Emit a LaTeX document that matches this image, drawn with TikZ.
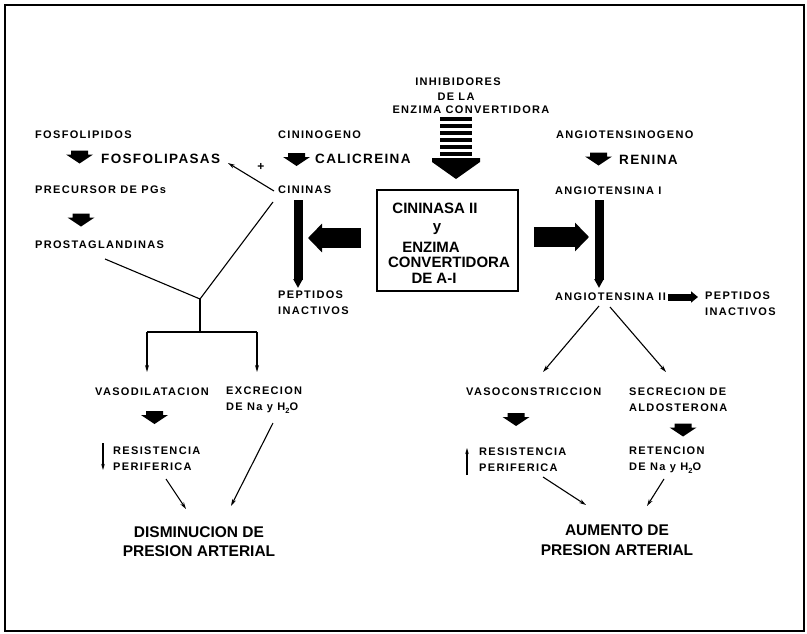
\documentclass[tikz,border=0pt]{standalone}
\usepackage{fontspec}
\setmainfont{Liberation Sans}
\newfontfamily\labf{Liberation Sans}[LetterSpace=12]
\newfontfamily\midf{Liberation Sans}[LetterSpace=10]
\newfontfamily\bigf{Liberation Sans}
\usetikzlibrary{arrows.meta}
\newcommand{\hdo}{H\lower2.5pt\hbox{\fontsize{7.5}{7.5}\selectfont 2}O}
\tikzset{
  lab/.style={font=\labf\bfseries\fontsize{11}{16}\selectfont, inner sep=0pt, anchor=west, align=left},
  labc/.style={font=\labf\bfseries\fontsize{11}{16}\selectfont, inner sep=0pt, anchor=center},
  mid/.style={font=\midf\bfseries\fontsize{13.5}{16}\selectfont, inner sep=0pt, anchor=west},
  boxt/.style={font=\bigf\bfseries\fontsize{15}{16}\selectfont, inner sep=0pt, anchor=center},
  result/.style={font=\bigf\bfseries\fontsize{15.5}{19.5}\selectfont, inner sep=0pt, anchor=center, align=center},
  thinline/.style={line width=1.1pt},
  thinarrow/.style={line width=1.1pt, -{Stealth[length=7pt,width=4pt]}},
  bigarrow/.style={line width=20pt, -{Triangle[width=28pt,length=14pt]}},
  barrow/.style={line width=9pt, -{Triangle[width=9pt,length=9pt]}},
  smallfat/.style={line width=7pt, -{Triangle[width=11pt,length=7pt]}},
  fatdown/.pic={\fill (-8.5,-6.5) -- (8.5,-6.5) -- (8.5,-2.5) -- (13.5,-2.5) -- (0,6.5) -- (-13.5,-2.5) -- (-8.5,-2.5) -- cycle;}
}
\begin{document}
\begin{tikzpicture}[x=1pt,y=-1pt]
\useasboundingbox (0,0) rectangle (807,634);
\fill[white] (0,0) rectangle (807,634);
\draw[line width=2.2pt] (5,5) rectangle (804,631);

% inhibitors
\node[labc] (inh1) at (458,82) {INHIBIDORES};
\node[labc] (inh2) at (456,97) {DE LA};
\node[labc] (inh3) at (471,110) {ENZIMA CONVERTIDORA};
\foreach \yy in {117,124,131,138,145,152} \fill (440,\yy) rectangle (472,\yy+4);
\fill (432,158) -- (480,158) -- (480,162) -- (456,179) -- (432,162) -- cycle;

% top row
\node[lab] (fosfolipidos) at (35,135) {FOSFOLIPIDOS};
\node[lab] (cininogeno) at (278,135) {CININOGENO};
\node[lab] (angiotensinogeno) at (556,135) {ANGIOTENSINOGENO};

\pic at (79.5,157) {fatdown};
\pic at (296.5,159.5) {fatdown};
\pic at (598.5,159) {fatdown};
\node[mid] (fosfolipasas) at (101,159) {FOSFOLIPASAS};
\node[mid] (calicreina) at (315,159) {CALICREINA};
\node[mid] (renina) at (619,160) {RENINA};

\node[lab] (precursor) at (35,190) {PRECURSOR DE PGs};
\node[lab] (cininas) at (278,190) {CININAS};
\node[lab] (angI) at (555,191) {ANGIOTENSINA I};

\pic at (81,220) {fatdown};
\node[lab] (prostaglandinas) at (35,245) {PROSTAGLANDINAS};

% + arrow
\coordinate (cinW) at (274,191);
\coordinate (fosE) at (228,163);
\draw[thinarrow] (cinW) -- (fosE);
\node[font=\bigf\bfseries\fontsize{12}{12}\selectfont, inner sep=0pt] (plus) at (261,167) {+};

% central box
\node[draw, line width=1.6pt, minimum width=141pt, minimum height=101pt, inner sep=0pt] (box) at (447.5,240.5) {};
\node[boxt] (b1) at (435,208) {CININASA II};
\node[boxt] (b2) at (437,229) {y};
\node[boxt] (b3) at (431,247) {ENZIMA};
\node[boxt] (b4) at (449,262) {CONVERTIDORA};
\node[boxt] (b5) at (434,278) {DE A-I};

% vertical bars
\coordinate (cinT) at (298,200);
\coordinate (cinB) at (298,288);
\coordinate (angT) at (599,200);
\coordinate (angB) at (599,288);
\draw[barrow] (cinT) -- (cinB);
\draw[barrow] (angT) -- (angB);

% big horizontal arrows
\draw[bigarrow] ([xshift=-15pt,yshift=2.5pt]box.west) -- ([xshift=10pt,yshift=2.5pt]cinT |- box.west);
\draw[bigarrow] ([xshift=15pt,yshift=3.5pt]box.east) -- ([xshift=-10pt,yshift=3.5pt]angT |- box.east);

\node[lab] (pepL) at (278,303) {PEPTIDOS\\INACTIVOS};
\node[lab] (angII) at (555,297) {ANGIOTENSINA II};
\node[lab] (pepR) at (705,304) {PEPTIDOS\\INACTIVOS};
\draw[smallfat] ([xshift=2pt]angII.east) -- ([xshift=-7pt]pepR.west |- angII.east);

% left Y
\coordinate (prosE) at (105,259);
\coordinate (cinS) at (273,202);
\coordinate (J) at (200,299);
\coordinate (J2) at (200,332);
\coordinate (Lb) at (147,332);
\coordinate (Rb) at (257,332);
\coordinate (Lt) at (147,372);
\coordinate (Rt) at (257,372);
\draw[thinline] (prosE) -- (J) -- (cinS);
\draw[thinline] (J) -- (J2);
\draw[thinline] (Lb) -- (Rb);
\draw[thinarrow] (Lb) -- (Lt);
\draw[thinarrow] (Rb) -- (Rt);

\node[lab] (vasodil) at (95,392) {VASODILATACION};
\node[lab] (excrecion) at (226,400) {EXCRECION\\DE Na y \hdo};
\pic at (154.5,417.5) {fatdown};
\coordinate (dnT) at (103,443);
\coordinate (dnB) at (103,470);
\draw[line width=1.2pt, -{Stealth[length=6pt,width=3.5pt]}] (dnT) -- (dnB);
\node[lab] (resL) at (113,459) {RESISTENCIA\\PERIFERICA};
\coordinate (a1s) at (166,479);
\coordinate (a1e) at (186,509);
\coordinate (a2s) at (273,423);
\coordinate (a2e) at (231,506);
\draw[thinarrow] (a1s) -- (a1e);
\draw[thinarrow] (a2s) -- (a2e);
\node[result] (disminucion) at (199,541.5) {DISMINUCION DE\\PRESION ARTERIAL};

% right tree
\coordinate (r1s) at (599,306);
\coordinate (r1e) at (543,372);
\coordinate (r2s) at (610,307);
\coordinate (r2e) at (666,372);
\draw[thinarrow] (r1s) -- (r1e);
\draw[thinarrow] (r2s) -- (r2e);

\node[lab] (vasocon) at (466,392) {VASOCONSTRICCION};
\node[lab] (secrecion) at (629,400) {SECRECION DE\\ALDOSTERONA};
\pic at (516,419.5) {fatdown};
\pic at (683,430) {fatdown};
\coordinate (upB) at (467,475);
\coordinate (upT) at (467,448);
\draw[line width=1.2pt, -{Stealth[length=6pt,width=3.5pt]}] (upB) -- (upT);
\node[lab] (resR) at (479,459.5) {RESISTENCIA\\PERIFERICA};
\node[lab] (retencion) at (629,460) {RETENCION\\DE Na y \hdo};
\coordinate (a3s) at (543,477);
\coordinate (a3e) at (586,505);
\coordinate (a4s) at (664,479);
\coordinate (a4e) at (647,506);
\draw[thinarrow] (a3s) -- (a3e);
\draw[thinarrow] (a4s) -- (a4e);
\node[result] (aumento) at (617,540) {AUMENTO DE\\PRESION ARTERIAL};
\end{tikzpicture}
\end{document}
